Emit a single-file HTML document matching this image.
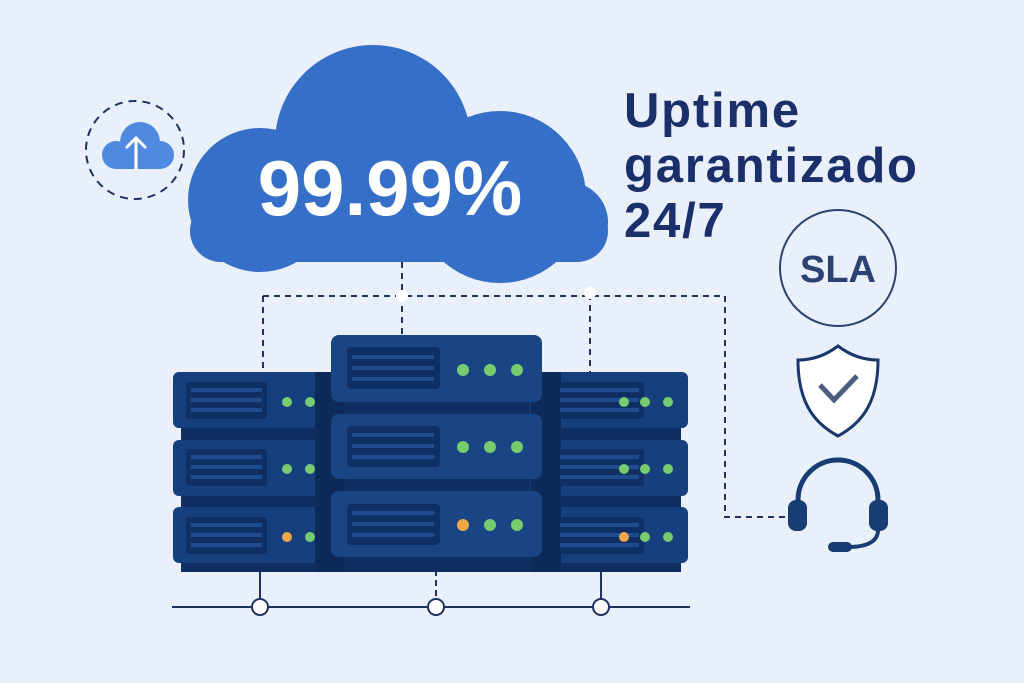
<!DOCTYPE html>
<html><head><meta charset="utf-8"><style>
html,body{margin:0;padding:0;background:#e9f0fb;}
svg{display:block}
</style></head><body>
<svg width="1024" height="683" viewBox="0 0 1024 683" xmlns="http://www.w3.org/2000/svg">
<rect width="1024" height="683" fill="#e9f0fb"/>
<!-- small cloud icon -->
<circle cx="135" cy="150" r="49" fill="none" stroke="#1f3360" stroke-width="2" stroke-dasharray="8 6"/>
<g fill="#4f8ae0">
<circle cx="140" cy="142" r="20"/><circle cx="116" cy="155" r="14"/><circle cx="160" cy="155" r="14"/>
<rect x="110" y="150" width="56" height="19" rx="9"/>
</g>
<path d="M136 170 V138 M127 147 L136 138 L145 147" stroke="#fff" stroke-width="3" fill="none" stroke-linecap="round"/>
<!-- connectors -->
<g stroke="#1f3360" stroke-width="2" stroke-dasharray="6 5" fill="none">
<path d="M402 262 V335"/>
<path d="M263 296 H725 V517 H785"/>
<path d="M263 296 V372"/>
<path d="M590 294 V372"/>
</g>
<circle cx="402" cy="296" r="6" fill="#fff"/>
<circle cx="590" cy="293" r="6" fill="#fff"/>
<!-- big cloud -->
<g fill="#356fc8">
<circle cx="373" cy="143" r="98"/>
<circle cx="260" cy="200" r="72"/>
<circle cx="500" cy="197" r="86"/>
<circle cx="568" cy="222" r="40"/>
<rect x="190" y="200" width="418" height="62" rx="31"/>
</g>
<text x="390" y="215" text-anchor="middle" font-family="Liberation Sans, sans-serif" font-weight="bold" font-size="78" fill="#fff">99.99%</text>
<!-- title -->
<g font-family="Liberation Sans, sans-serif" font-weight="bold" font-size="49" letter-spacing="1.8" fill="#1b2f6b">
<text x="624" y="127">Uptime</text>
<text x="624" y="182">garantizado</text>
<text x="624" y="237">24/7</text>
</g>
<circle cx="838" cy="268" r="58" fill="none" stroke="#2c4273" stroke-width="2"/>
<text x="838" y="282" text-anchor="middle" font-family="Liberation Sans, sans-serif" font-weight="bold" font-size="38" fill="#2c4273">SLA</text>
<!-- shield -->
<path d="M838 346 C825 356 812 360 798 360 C798 400 812 422 838 436 C864 422 878 400 878 360 C864 360 851 356 838 346 Z" fill="#fff" stroke="#1a376b" stroke-width="3"/>
<path d="M820 385 L834 400 L857 376" fill="none" stroke="#4a5f7e" stroke-width="5"/>
<!-- headset -->
<path d="M798 505 V500 A40 40 0 0 1 878 500 V505" fill="none" stroke="#183c74" stroke-width="5"/>
<rect x="788" y="500" width="19" height="31" rx="8" fill="#183c74"/>
<rect x="869" y="500" width="19" height="31" rx="8" fill="#183c74"/>
<path d="M878 530 C878 542 866 547 848 547" fill="none" stroke="#183c74" stroke-width="4"/>
<rect x="828" y="542" width="24" height="10" rx="5" fill="#183c74"/>
<!-- bus -->
<line x1="172" y1="607" x2="690" y2="607" stroke="#1f3360" stroke-width="2"/>
<line x1="260" y1="570" x2="260" y2="600" stroke="#1f3360" stroke-width="2"/>
<line x1="436" y1="570" x2="436" y2="600" stroke="#1f3360" stroke-width="2" stroke-dasharray="6 4"/>
<line x1="601" y1="570" x2="601" y2="600" stroke="#1f3360" stroke-width="2"/>
<g fill="#fff" stroke="#1f3360" stroke-width="2">
<circle cx="260" cy="607" r="8"/><circle cx="436" cy="607" r="8"/><circle cx="601" cy="607" r="8"/>
</g>
<!-- servers back -->
<rect x="181" y="420" width="500" height="152" fill="#0f2e62"/>
<rect x="335" y="395" width="203" height="177" fill="#0f2e62"/>
<g fill="#163f7e">
<rect x="173" y="372" width="170" height="56" rx="6"/>
<rect x="173" y="440" width="170" height="56" rx="6"/>
<rect x="173" y="507" width="170" height="56" rx="6"/>
<rect x="530" y="372" width="158" height="56" rx="6"/>
<rect x="530" y="440" width="158" height="56" rx="6"/>
<rect x="530" y="507" width="158" height="56" rx="6"/>
</g>
<rect x="315" y="372" width="30" height="200" fill="#0e2a58"/>
<rect x="531" y="372" width="30" height="200" fill="#0e2a58"/>
<g fill="#102f64">
<rect x="186" y="382" width="81" height="37" rx="3"/>
<rect x="186" y="449" width="81" height="37" rx="3"/>
<rect x="186" y="517" width="81" height="37" rx="3"/>
<rect x="560" y="382" width="84" height="37" rx="3"/>
<rect x="560" y="449" width="84" height="37" rx="3"/>
<rect x="560" y="517" width="84" height="37" rx="3"/>
</g>
<g stroke="#1e4c8e" stroke-width="4">
<path d="M191 390 H262 M191 400 H262 M191 410 H262 M191 457 H262 M191 467 H262 M191 477 H262 M191 525 H262 M191 535 H262 M191 545 H262"/>
<path d="M560 390 H639 M560 400 H639 M560 410 H639 M560 457 H639 M560 467 H639 M560 477 H639 M560 525 H639 M560 535 H639 M560 545 H639"/>
</g>
<!-- center servers -->
<g fill="#1a4585">
<rect x="331" y="335" width="211" height="67" rx="8"/>
<rect x="331" y="414" width="211" height="65" rx="8"/>
<rect x="331" y="491" width="211" height="66" rx="8"/>
</g>
<g fill="#102f64">
<rect x="347" y="347" width="93" height="42" rx="4"/>
<rect x="347" y="426" width="93" height="41" rx="4"/>
<rect x="347" y="504" width="93" height="41" rx="4"/>
</g>
<g stroke="#1e4c8e" stroke-width="4">
<path d="M352 357 H434 M352 368 H434 M352 379 H434 M352 435 H434 M352 446 H434 M352 457 H434 M352 513 H434 M352 524 H434 M352 535 H434"/>
</g>
<!-- LEDs -->
<g fill="#76cc6e">
<circle cx="287" cy="402" r="5"/><circle cx="310" cy="402" r="5"/>
<circle cx="287" cy="469" r="5"/><circle cx="310" cy="469" r="5"/>
<circle cx="310" cy="537" r="5"/>
<circle cx="624" cy="402" r="5"/><circle cx="645" cy="402" r="5"/><circle cx="668" cy="402" r="5"/>
<circle cx="624" cy="469" r="5"/><circle cx="645" cy="469" r="5"/><circle cx="668" cy="469" r="5"/>
<circle cx="645" cy="537" r="5"/><circle cx="668" cy="537" r="5"/>
<circle cx="463" cy="370" r="6"/><circle cx="490" cy="370" r="6"/><circle cx="517" cy="370" r="6"/>
<circle cx="463" cy="447" r="6"/><circle cx="490" cy="447" r="6"/><circle cx="517" cy="447" r="6"/>
<circle cx="490" cy="525" r="6"/><circle cx="517" cy="525" r="6"/>
</g>
<g fill="#f0a848">
<circle cx="287" cy="537" r="5"/><circle cx="624" cy="537" r="5"/><circle cx="463" cy="525" r="6"/>
</g>
</svg>
</body></html>
